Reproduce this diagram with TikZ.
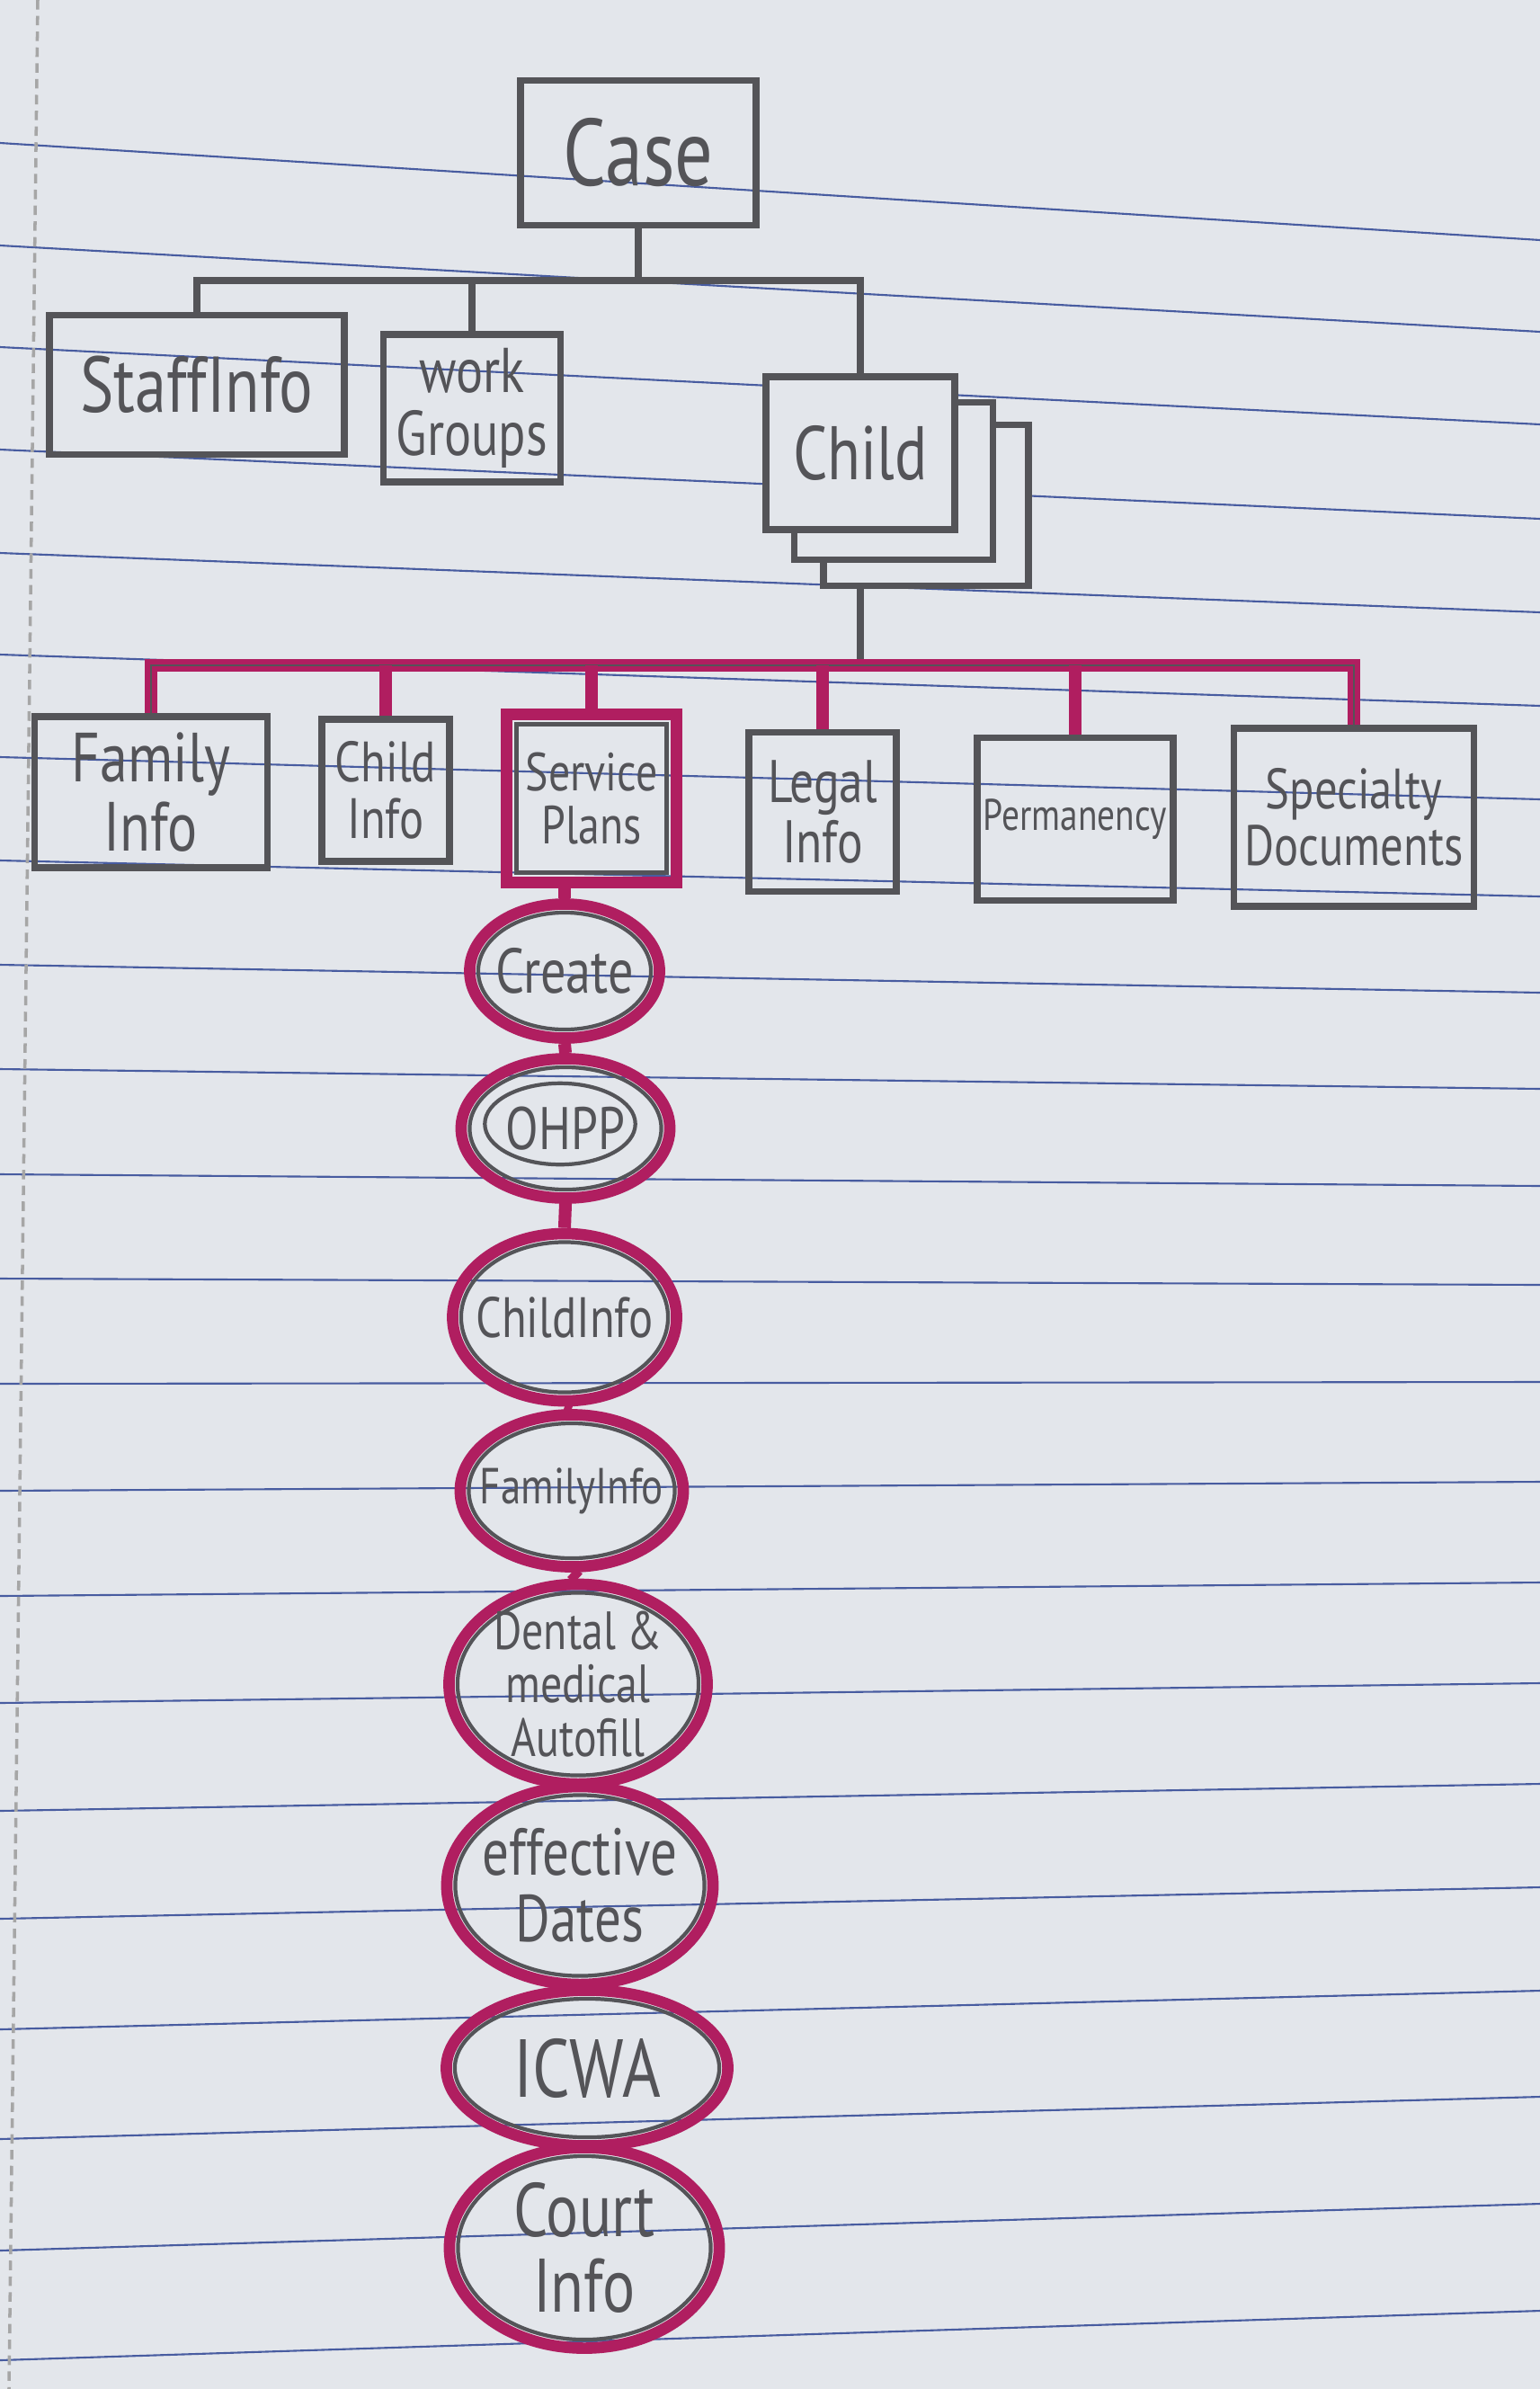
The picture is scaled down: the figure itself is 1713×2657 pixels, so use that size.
\documentclass[tikz,border=0pt]{standalone}
\usepackage{fontspec}
\newfontfamily\hand{PT Sans}[FakeStretch=0.8]
\usetikzlibrary{calc,shapes.geometric}
\definecolor{paper}{RGB}{227,230,235}
\definecolor{rule}{RGB}{72,92,160}
\definecolor{pencil}{RGB}{84,84,88}
\definecolor{pen}{RGB}{176,30,96}
\newcommand{\hsz}[1]{\hand\fontsize{#1}{#1}\selectfont}
\tikzset{
  pbox/.style={draw=pencil,line width=2.2pt,text=pencil,inner sep=2pt,align=center},
  stepring/.style={ellipse,draw=pen,line width=3.6pt,text=pencil,inner sep=-6pt,align=center},
  pline/.style={draw=pencil,line width=2pt},
  mline/.style={draw=pen,line width=4pt},
}
\begin{document}
\begin{tikzpicture}[x=.01cm,y=-.01cm]
  \fill[paper] (0,0) rectangle (1713,2657);
  \useasboundingbox (0,0) rectangle (1713,2657);
  \foreach \l/\r in {159/267,273/369,386/472,500/577,615/681,728/785,842/889,957/997,1073/1104,1189/1211,1306/1319,
                     1422/1429,1539/1537,1658/1648,1775/1760,1894/1872,2014/1984,2134/2099,2257/2214,2379/2332,2503/2451,2625/2570}
    {\draw[rule,line width=.6pt] (0,\l) -- (1713,\r);}
  \draw[black!35,line width=1pt,dash pattern=on 3pt off 2pt] (42,0) -- (10,2657);

  % top level
  \node[pbox,minimum width=2.62cm,minimum height=1.61cm,font=\hsz{30}] (case) at (710,170) {Case};
  \node[pbox,minimum width=3.28cm,minimum height=1.55cm,font=\hsz{25}] (staff) at (219,428) {StaffInfo};
  \node[pbox,minimum width=1.97cm,minimum height=1.64cm,font=\hsz{20}] (work) at (525,454) {work\\Groups};
  \node[pbox,fill=paper,minimum width=2.28cm,minimum height=1.79cm] (childB) at (1030,562) {};
  \node[pbox,fill=paper,minimum width=2.21cm,minimum height=1.75cm] (childM) at (994,535) {};
  \node[pbox,fill=paper,minimum width=2.10cm,minimum height=1.70cm,font=\hsz{24}] (child) at (957,504) {Child};

  % child sections
  \node[pbox,minimum width=2.59cm,minimum height=1.68cm,font=\hsz{22}] (famInfo) at (168,881) {Family\\Info};
  \node[pbox,minimum width=1.42cm,minimum height=1.58cm,font=\hsz{18}] (chInfo) at (429,879) {Child\\Info};
  \node[pbox,draw=pen,line width=3.6pt,minimum width=1.89cm,minimum height=1.87cm,font=\hsz{17}] (svc) at (658,888) {Service\\Plans};
  \node[pbox,minimum width=1.64cm,minimum height=1.77cm,font=\hsz{19}] (legal) at (915,903) {Legal\\Info};
  \node[pbox,minimum width=2.01cm,minimum height=1.81cm,font=\hsz{14}] (perm) at (1196,911) {Permanency};
  \node[pbox,minimum width=2.67cm,minimum height=1.98cm,font=\hsz{18}] (spec) at (1506,909) {Specialty\\Documents};
  \draw[pencil,line width=1.4pt] ([shift={(5pt,-5pt)}]svc.north west) rectangle ([shift={(-5pt,5pt)}]svc.south east);

  % service plan steps
  \node[stepring,minimum width=2.11cm,minimum height=1.49cm,font=\hsz{20}] (create) at (628,1080) {Create};
  \node[stepring,minimum width=2.32cm,minimum height=1.55cm,font=\hsz{19}] (ohpp) at (629,1255) {OHPP};
  \node[stepring,minimum width=2.49cm,minimum height=1.86cm,font=\hsz{18}] (ciStep) at (628,1465) {ChildInfo};
  \node[stepring,minimum width=2.48cm,minimum height=1.69cm,font=\hsz{16}] (fiStep) at (636,1658) {FamilyInfo};
  \node[stepring,minimum width=2.87cm,minimum height=2.22cm,font=\hsz{17}] (dental) at (643,1873) {Dental \&\\medical\\Autofill};
  \node[stepring,minimum width=2.96cm,minimum height=2.20cm,font=\hsz{21}] (dates) at (645,2097) {effective\\Dates};
  \node[stepring,minimum width=3.13cm,minimum height=1.73cm,font=\hsz{26}] (icwa) at (653,2300) {ICWA};
  \node[stepring,minimum width=3.00cm,minimum height=2.23cm,font=\hsz{24}] (court) at (650,2500) {Court\\Info};
  \foreach \s in {create,ohpp,ciStep,fiStep,dental,dates,icwa,court}
    \draw[pencil,line width=1.2pt] let \p1=(\s.center), \p2=(\s.east), \p3=(\s.north) in
      (\p1) ellipse ({\x2-\x1-4.5pt} and {\y3-\y1-4.5pt});
  \draw[pencil,line width=1.2pt] let \p1=(ohpp.center), \p2=(ohpp.east), \p3=(ohpp.north) in
    ($(\p1)+(-6,-5)$) ellipse ({\x2-\x1-11pt} and {\y3-\y1-11pt});

  % connectors
  \coordinate (topbus) at (0,312);
  \coordinate (lowbus) at (0,740);
  \draw[pline] (case.south) -- (case.south |- topbus);
  \draw[pline] (staff.north) |- (child.north |- topbus) -- (child.north);
  \draw[pline] (work.north) -- (work.north |- topbus);
  \draw[pline] (child.south |- childB.south) -- (child.south |- lowbus);
  \draw[mline,postaction={draw=pencil,line width=.8pt}] (famInfo.north) |- (spec.north |- lowbus) -- (spec.north);
  \foreach \s in {chInfo,svc,legal,perm}
    \draw[mline] (\s.north) -- (\s.north |- lowbus);
  \draw[mline] (create.north |- svc.south) -- (create.north);
  \foreach \a/\b in {create/ohpp,ohpp/ciStep,ciStep/fiStep,fiStep/dental,dental/dates,dates/icwa,icwa/court}
    \draw[mline] (\a.south) -- (\b.north);
\end{tikzpicture}
\end{document}
